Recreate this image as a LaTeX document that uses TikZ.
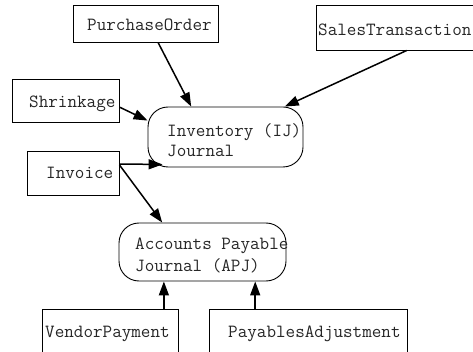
\documentclass[tikz,border=0pt]{standalone}
\usetikzlibrary{arrows.meta,calc}
\tikzset{
  box/.style={draw, line width=0.9pt, rectangle, inner sep=0pt},
  journal/.style={draw, line width=0.9pt, rectangle, rounded corners=20pt, inner sep=0pt},
  lbl/.style={anchor=base west, inner sep=0pt, font=\ttfamily\fontsize{18.6}{22}\selectfont, text=black!85},
  conn/.style={line width=1.5pt, -{Triangle[length=14pt,width=10pt]}},
}
\begin{document}
\begin{tikzpicture}[x=1pt,y=-1pt]
\useasboundingbox (0,0) rectangle (473,352);
% boxes
\node[box, minimum width=145pt, minimum height=37pt] (po) at (145.5,23.5) {};
\node[box, minimum width=162pt, minimum height=45pt] (st) at (397,27.5) {};
\node[box, minimum width=107pt, minimum height=43pt] (sh) at (65.5,100.5) {};
\node[box, minimum width=92pt, minimum height=44pt] (iv) at (73,173) {};
\node[box, minimum width=136pt, minimum height=60pt] (vp) at (110,339) {};
\node[box, minimum width=198pt, minimum height=60pt] (pa) at (308,339) {};
\node[journal, minimum width=155pt, minimum height=60pt] (ij) at (225.5,137) {};
\node[journal, minimum width=167pt, minimum height=58pt] (ap) at (202.5,252) {};
% texts
\node[lbl] (tpo) at (87,31) {PurchaseOrder};
\node[lbl] (tst) at (318,36) {SalesTransaction};
\node[lbl] (tsh) at (29,108) {Shrinkage};
\node[lbl] (tiv) at (46,179) {Invoice};
\node[lbl] (tij1) at (167,137) {Inventory (IJ)};
\node[lbl] (tij2) at (167,157) {Journal};
\node[lbl] (tap1) at (135,250) {Accounts Payable};
\node[lbl] (tap2) at (135,271) {Journal (APJ)};
\node[lbl] (tvp) at (45,337) {VendorPayment};
\node[lbl] (tpa) at (228,337) {PayablesAdjustment};
% connectors
\draw[conn] ($(po.south west)!0.586!(po.south east)$) -- ($(ij.north west)!0.28!(ij.north east)$);
\draw[conn] ($(st.south west)!0.56!(st.south east)$) -- ($(ij.north west)!0.88!(ij.north east)$);
\draw[conn] ($(sh.north east)!0.65!(sh.south east)$) -- ($(ij.north west)!0.23!(ij.south west)$);
\draw[conn] ($(iv.north east)!0.3!(iv.south east)$) -- ($(ij.south west)+(15,-3)$);
\draw[conn] ($(iv.north east)!0.32!(iv.south east)$) -- ($(ap.north west)!0.26!(ap.north east)$);
\coordinate (apa) at ($(ap.south west)!0.27!(ap.south east)$);
\coordinate (apb) at ($(ap.south west)!0.814!(ap.south east)$);
\draw[conn] (apa |- vp.north) -- (apa);
\draw[conn] (apb |- pa.north) -- (apb);
\end{tikzpicture}
\end{document}
